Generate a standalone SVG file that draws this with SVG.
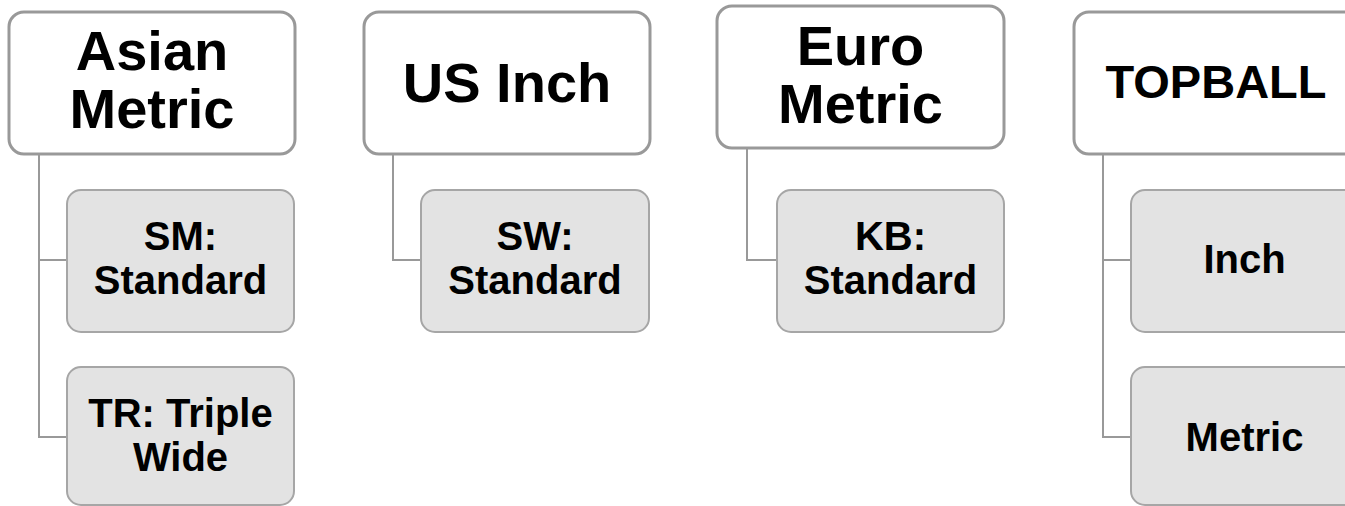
<svg xmlns="http://www.w3.org/2000/svg" width="1345" height="506" viewBox="0 0 1345 506">
<style>
.p{fill:#ffffff;stroke:#999999;stroke-width:3}
.c{fill:#e3e3e3;stroke:#a6a6a6;stroke-width:2}
.t{font-family:"Liberation Sans",Arial,sans-serif;font-weight:bold;fill:#000;text-anchor:middle}
.tp{font-size:56px}
.tc{font-size:40px}
.con{fill:none;stroke:#999999;stroke-width:2}
</style>
<rect width="1345" height="506" fill="#ffffff"/>
<g id="connectors">
<path class="con" d="M39 154 V437 H67 M39 260 H67"/>
<path class="con" d="M393 154 V260 H421"/>
<path class="con" d="M747 148 V260 H777"/>
<path class="con" d="M1103 154 V437 H1131 M1103 260 H1131"/>
</g>
<g id="asian-metric">
<rect class="p" x="9" y="12" width="286" height="142" rx="15"/>
<text class="t tp" x="152" y="70">Asian</text>
<text class="t tp" x="152" y="128">Metric</text>
</g>
<g id="sm-standard">
<rect class="c" x="67" y="190" width="227" height="142" rx="14"/>
<text class="t tc" x="180.5" y="250">SM:</text>
<text class="t tc" x="180.5" y="294">Standard</text>
</g>
<g id="tr-triple-wide">
<rect class="c" x="67" y="367" width="227" height="138" rx="14"/>
<text class="t tc" x="180.5" y="427">TR: Triple</text>
<text class="t tc" x="180.5" y="471">Wide</text>
</g>
<g id="us-inch">
<rect class="p" x="364" y="12" width="286" height="142" rx="15"/>
<text class="t tp" x="507" y="102">US Inch</text>
</g>
<g id="sw-standard">
<rect class="c" x="421" y="190" width="228" height="142" rx="14"/>
<text class="t tc" x="535" y="250">SW:</text>
<text class="t tc" x="535" y="294">Standard</text>
</g>
<g id="euro-metric">
<rect class="p" x="717" y="6" width="287" height="142" rx="15"/>
<text class="t tp" x="860.5" y="65">Euro</text>
<text class="t tp" x="860.5" y="123">Metric</text>
</g>
<g id="kb-standard">
<rect class="c" x="777" y="190" width="227" height="142" rx="14"/>
<text class="t tc" x="890.5" y="250">KB:</text>
<text class="t tc" x="890.5" y="294">Standard</text>
</g>
<g id="topball">
<rect class="p" x="1074" y="12" width="286" height="142" rx="15"/>
<text class="t" style="font-size:47px" x="1216" y="98">TOPBALL</text>
</g>
<g id="topball-inch">
<rect class="c" x="1131" y="190" width="227" height="142" rx="14"/>
<text class="t tc" x="1244.5" y="273">Inch</text>
</g>
<g id="topball-metric">
<rect class="c" x="1131" y="367" width="227" height="138" rx="14"/>
<text class="t tc" x="1244.5" y="451">Metric</text>
</g>
</svg>
